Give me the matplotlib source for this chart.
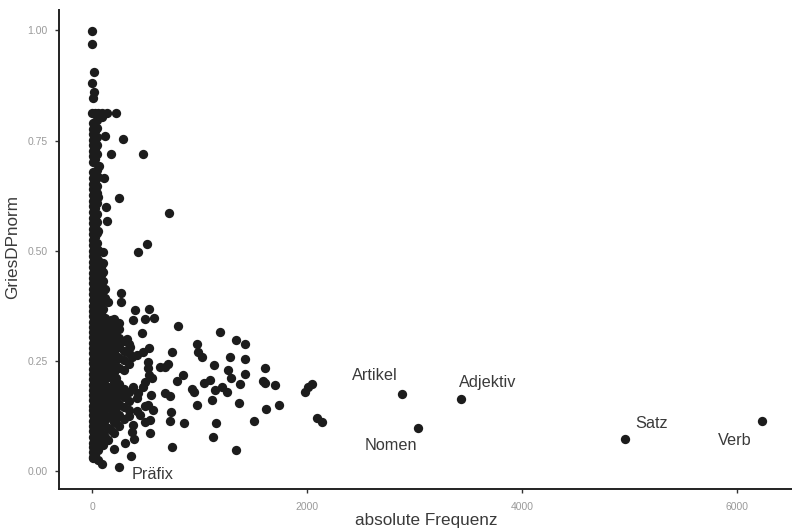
import matplotlib
matplotlib.use("Agg")
import matplotlib.pyplot as plt

# labelled words
label_names = ["Artikel", "Adjektiv", "Nomen", "Satz", "Verb", "Präfix"]
label_text_x = [2628, 3679, 2781, 5209, 5981, 567]
label_text_y = [0.216, 0.200, 0.057, 0.107, 0.070, -0.009]
label_freq = [2884, 3433, 3036, 4961, 6235, 254]
label_dp = [0.174, 0.163, 0.098, 0.072, 0.1135, 0.008]

# scattered points, read one by one
sparse_freq = [0, 0, 15, 0, 20, 5, 0, 30, 55, 90, 137, 223, 90, 121, 284, 178, 478, 65, 112, 252,
               130, 713, 142, 509, 425, 100, 267, 267, 530, 397, 384, 496, 580, 800, 1188, 468,
               1337, 1420, 974, 533, 989, 1020, 741, 1287, 1420, 1135, 1262, 1609, 1426, 1290,
               849, 788, 1594, 1612, 1702, 1377, 1098, 1045, 1209, 1144, 1259, 927, 949, 679, 726,
               1116, 974, 1367, 1619, 1740, 738, 726, 856, 1153, 1504, 1123, 744, 1337, 540, 394,
               307, 207, 363, 90, 12, 60, 322, 353, 369, 420, 475, 518, 525, 530, 555, 493, 384,
               477, 431, 420, 549, 521, 490, 571, 416, 447, 540, 490, 379, 375, 633, 679, 710,
               2043, 2012, 1981, 2090, 2136]
sparse_dp = [0.998, 0.969, 0.906, 0.880, 0.860, 0.846, 0.813, 0.813, 0.813, 0.813, 0.813, 0.813,
             0.804, 0.761, 0.753, 0.720, 0.720, 0.693, 0.666, 0.619, 0.600, 0.586, 0.567, 0.516,
             0.497, 0.498, 0.403, 0.384, 0.368, 0.365, 0.343, 0.344, 0.347, 0.329, 0.315, 0.3125,
             0.297, 0.2875, 0.289, 0.280, 0.271, 0.2595, 0.270, 0.2595, 0.254, 0.2406, 0.230,
             0.2345, 0.2195, 0.212, 0.218, 0.205, 0.205, 0.200, 0.195, 0.198, 0.2066, 0.200, 0.191,
             0.184, 0.1786, 0.185, 0.179, 0.178, 0.170, 0.161, 0.150, 0.154, 0.140, 0.149, 0.133,
             0.114, 0.108, 0.108, 0.114, 0.0765, 0.055, 0.047, 0.086, 0.0726, 0.064, 0.050, 0.035,
             0.016, 0.029, 0.025, 0.300, 0.282, 0.2585, 0.263, 0.270, 0.248, 0.233, 0.218, 0.211,
             0.203, 0.191, 0.190, 0.177, 0.166, 0.172, 0.150, 0.147, 0.138, 0.135, 0.127, 0.116,
             0.110, 0.104, 0.089, 0.235, 0.237, 0.243, 0.197, 0.191, 0.180, 0.120, 0.112]

# dense column next to zero: dp values at roughly the same frequency
dp_at_5 = [0.031, 0.042, 0.055, 0.064, 0.078, 0.091, 0.102, 0.113, 0.127, 0.139, 0.148, 0.161, 0.173,
           0.184, 0.196, 0.208, 0.219, 0.232, 0.244, 0.255, 0.268, 0.279, 0.291, 0.303, 0.316, 0.327,
           0.339, 0.352, 0.364, 0.375, 0.388, 0.401, 0.412, 0.426, 0.437, 0.449, 0.462, 0.474, 0.487,
           0.499, 0.512, 0.524, 0.537, 0.549, 0.562, 0.574, 0.588, 0.601, 0.613, 0.626, 0.639, 0.652,
           0.664, 0.678, 0.702, 0.714, 0.727, 0.739, 0.752, 0.764, 0.777, 0.789]
dp_at_30 = [0.036, 0.059, 0.081, 0.098, 0.121, 0.142, 0.165, 0.188, 0.205, 0.227, 0.248, 0.271, 0.293,
            0.312, 0.334, 0.357, 0.379, 0.397, 0.421, 0.443, 0.465, 0.484, 0.507, 0.531, 0.553, 0.571,
            0.596, 0.617, 0.638, 0.659, 0.676, 0.708, 0.731, 0.748, 0.771, 0.792]
dp_at_45 = [0.105, 0.133, 0.177, 0.214, 0.258, 0.301, 0.345, 0.408, 0.451, 0.495, 0.518, 0.541, 0.566,
            0.583, 0.608, 0.631, 0.647, 0.683, 0.719, 0.741, 0.758, 0.779, 0.797]
dp_at_60 = [0.048, 0.072, 0.094, 0.118, 0.137, 0.159, 0.182, 0.203, 0.224, 0.246, 0.265, 0.287, 0.308,
            0.331, 0.349, 0.372, 0.391, 0.416, 0.438, 0.457, 0.478, 0.502, 0.545, 0.622, 0.668]
dp_at_80 = [0.067, 0.103, 0.128, 0.149, 0.171, 0.193, 0.212, 0.235, 0.256, 0.275, 0.296, 0.318, 0.338,
            0.359, 0.401, 0.424, 0.445, 0.463]
dp_at_100 = [0.058, 0.084, 0.109, 0.131, 0.153, 0.176, 0.198, 0.221, 0.239, 0.262, 0.283, 0.304, 0.326,
             0.344, 0.367, 0.386, 0.409, 0.431, 0.452, 0.471]
dp_at_125 = [0.078, 0.116, 0.141, 0.163, 0.187, 0.209, 0.229, 0.251, 0.272, 0.292, 0.313, 0.335, 0.347,
             0.392, 0.413]
dp_at_150 = [0.071, 0.097, 0.122, 0.146, 0.169, 0.191, 0.214, 0.236, 0.258, 0.277, 0.299, 0.318, 0.339,
             0.384]
dp_at_175 = [0.093, 0.126, 0.155, 0.178, 0.219, 0.241, 0.263, 0.284, 0.305, 0.324, 0.343]
dp_at_200 = [0.086, 0.112, 0.136, 0.157, 0.181, 0.201, 0.225, 0.247, 0.268, 0.289, 0.309, 0.331, 0.345]
dp_at_225 = [0.119, 0.143, 0.166, 0.188, 0.211, 0.238, 0.261, 0.278, 0.298, 0.317, 0.334]
dp_at_250 = [0.101, 0.128, 0.151, 0.174, 0.197, 0.234, 0.256, 0.281, 0.302, 0.323, 0.337]
dp_at_300 = [0.118, 0.145, 0.168, 0.186, 0.229, 0.253, 0.272, 0.296]
dp_at_340 = [0.125, 0.139, 0.158, 0.179, 0.243, 0.267, 0.288]
dense_freqs = [5, 30, 45, 60, 80, 100, 125, 150, 175, 200, 225, 250, 300, 340]
dense_dps = [dp_at_5, dp_at_30, dp_at_45, dp_at_60, dp_at_80, dp_at_100, dp_at_125, dp_at_150,
             dp_at_175, dp_at_200, dp_at_225, dp_at_250, dp_at_300, dp_at_340]

x_ticks = [0, 2000, 4000, 6000]
y_ticks = [0.00, 0.25, 0.50, 0.75, 1.00]

plt.rcParams["font.family"] = ["Liberation Sans", "DejaVu Sans"]

fig = plt.figure(figsize=(7.92, 5.32), dpi=100)
ax = fig.add_axes([58.5 / 792, 1 - 489 / 532, (792 - 58.5) / 792, (489 - 10) / 532])

dot = "#1c1c1c"
for freq, dps in zip(dense_freqs, dense_dps):
    ax.scatter([freq] * len(dps), dps, s=45, color=dot, linewidths=0)
ax.scatter(sparse_freq, sparse_dp, s=45, color=dot, linewidths=0)
ax.scatter(label_freq, label_dp, s=45, color=dot, linewidths=0)

for name, tx, ty in zip(label_names, label_text_x, label_text_y):
    ax.text(tx, ty, name, ha="center", va="center", fontsize=11.7, color="#3a3a3a")

ax.set_xlim(-312, 6512)
ax.set_ylim(-0.041, 1.0465)
ax.set_xticks(x_ticks)
ax.set_yticks(y_ticks)
ax.set_yticklabels([f"{v:.2f}" for v in y_ticks])
ax.tick_params(labelsize=7.5, labelcolor="#9a9a9a", color="#333333", length=3, width=1)
ax.tick_params(axis="x", pad=6)
ax.tick_params(axis="y", pad=5)
ax.spines["top"].set_visible(False)
ax.spines["right"].set_visible(False)
ax.spines["left"].set_linewidth(1.4)
ax.spines["bottom"].set_linewidth(1.4)
ax.spines["left"].set_color("#222222")
ax.spines["bottom"].set_color("#222222")

fig.text(426 / 792, 1 - 521 / 532, "absolute Frequenz", ha="center", va="center",
         fontsize=12.3, color="#3a3a3a")
fig.text(13 / 792, 1 - 247 / 532, "GriesDPnorm", ha="center", va="center", rotation=90,
         fontsize=12.3, color="#3a3a3a")

fig.savefig("out.png", dpi=100)
